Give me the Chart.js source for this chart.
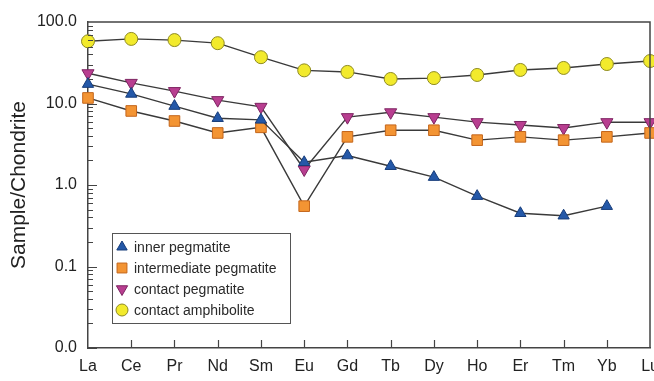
<!DOCTYPE html>
<html>
<head>
<meta charset="utf-8">
<script src="https://cdn.jsdelivr.net/npm/chart.js@4.4.1/dist/chart.umd.min.js"></script>
<style>
  html, body { margin: 0; padding: 0; background: #fff; overflow: hidden; }
  #clip { width: 654px; height: 381px; overflow: hidden; }
  #wrap { width: 660px; height: 381px; }
</style>
</head>
<body>
<div id="clip"><div id="wrap"><canvas id="ree"></canvas></div></div>
<script>
const elements = ['La', 'Ce', 'Pr', 'Nd', 'Sm', 'Eu', 'Gd', 'Tb', 'Dy', 'Ho', 'Er', 'Tm', 'Yb', 'Lu']
const yTicks = [0.01, 0.1, 1, 10, 100]

const innerPeg = [17.3, 13.1, 9.3, 6.6, 6.3, 1.9, 2.3, 1.7, 1.25, 0.73, 0.45, 0.42, 0.55, null]
const intermediatePeg = [11.7, 8.1, 6.1, 4.35, 5.1, 0.55, 3.9, 4.7, 4.7, 3.55, 3.9, 3.55, 3.9, 4.35]
const contactPeg = [23.5, 17.9, 14.2, 11.0, 9.1, 1.55, 6.8, 7.8, 6.8, 5.9, 5.45, 5.0, 5.9, 5.9]
const amphibolite = [58, 62, 60, 55, 37, 25.5, 24.4, 20, 20.5, 22.4, 25.8, 27.3, 30.5, 33.2]

const AXIS = '#444'
const LINE = '#3a3a3a'

const makeSet = (label, data, style, fill, border, radius, rotation) => ({
    label: label,
    data: data,
    borderColor: LINE,
    borderWidth: 1.4,
    tension: 0,
    pointStyle: style,
    pointRotation: rotation || 0,
    pointRadius: radius,
    pointBackgroundColor: fill,
    pointBorderColor: border,
    pointBorderWidth: 1,
})

// inward ticks, frame and legend box
const framePlugin = {
    id: 'frame',
    afterDraw(chart) {
        const ctx = chart.ctx
        const a = chart.chartArea
        const ys = chart.scales.y
        const xs = chart.scales.x
        ctx.save()
        ctx.strokeStyle = AXIS
        ctx.lineWidth = 1.2
        ctx.beginPath()
        for (let e = -2; e < 2; e++) {
            for (let m = 1; m <= 9; m++) {
                const py = Math.round(ys.getPixelForValue(m * Math.pow(10, e))) + 0.5
                const len = m === 1 ? 9 : 5
                ctx.moveTo(a.left, py)
                ctx.lineTo(a.left + len, py)
            }
        }
        for (let i = 1; i < elements.length - 1; i++) {
            const px = Math.round(xs.getPixelForValue(i)) + 0.5
            ctx.moveTo(px, a.bottom)
            ctx.lineTo(px, a.bottom - 8)
        }
        ctx.stroke()
        ctx.lineWidth = 1.5
        ctx.beginPath()
        ctx.moveTo(a.left, a.top)
        ctx.lineTo(Math.round(a.right), a.top)
        ctx.lineTo(Math.round(a.right), a.bottom)
        ctx.stroke()

        // legend
        const lx = a.left + 24, ly = a.top + 211
        ctx.fillStyle = '#fff'
        ctx.fillRect(lx, ly, 178, 90)
        ctx.lineWidth = 1
        ctx.strokeStyle = '#555'
        ctx.strokeRect(lx + 0.5, ly + 0.5, 178, 90)
        ctx.font = '14px "Liberation Sans", Arial, sans-serif'
        ctx.textBaseline = 'middle'
        chart.data.datasets.forEach((ds, i) => {
            const cy = ly + 14 + i * 21
            ctx.fillStyle = ds.pointBackgroundColor
            ctx.strokeStyle = ds.pointBorderColor
            ctx.lineWidth = 1
            Chart.helpers.drawPoint(ctx, {
                pointStyle: ds.pointStyle,
                radius: ds.pointRadius - 0.5,
                rotation: ds.pointRotation,
                borderWidth: 1,
            }, lx + 10, cy)
            ctx.fillStyle = '#2a2a2a'
            ctx.fillText(ds.label, lx + 22, cy + 1)
        })
        ctx.restore()
    },
}

new Chart(document.getElementById('ree'), {
    type: 'line',
    data: {
        labels: elements,
        datasets: [
            makeSet('inner pegmatite', innerPeg, 'triangle', '#2458a8', '#163c7a', 6.5),
            makeSet('intermediate pegmatite', intermediatePeg, 'rect', '#f39433', '#c4661c', 7.5),
            makeSet('contact pegmatite', contactPeg, 'triangle', '#b83e90', '#7e2462', 7, 180),
            makeSet('contact amphibolite', amphibolite, 'circle', '#f2ea2c', '#8e8a22', 6.5),
        ],
    },
    options: {
        responsive: true,
        maintainAspectRatio: false,
        animation: false,
        layout: { padding: { top: 22, right: 0, left: 0, bottom: 0 } },
        plugins: {
            legend: { display: false },
            tooltip: { enabled: false },
        },
        scales: {
            x: {
                type: 'category',
                offset: false,
                grid: { display: false },
                border: { display: true, color: AXIS, width: 1.5 },
                ticks: {
                    color: '#222',
                    font: { family: '"Liberation Sans", Arial, sans-serif', size: 16 },
                    padding: 1,
                    maxRotation: 0,
                    autoSkip: false,
                },
                afterFit(scale) {
                    scale.height = 33
                },
            },
            y: {
                type: 'logarithmic',
                min: 0.01,
                max: 100,
                grid: { display: false },
                border: { display: true, color: AXIS, width: 1.5 },
                afterBuildTicks(scale) {
                    scale.ticks = yTicks.map(v => ({ value: v, major: true }))
                },
                ticks: {
                    color: '#222',
                    font: { family: '"Liberation Sans", Arial, sans-serif', size: 16 },
                    padding: 3,
                    callback: (v) => Number(v).toFixed(1),
                },
                title: {
                    display: true,
                    text: 'Sample/Chondrite',
                    color: '#222',
                    font: { family: '"Liberation Sans", Arial, sans-serif', size: 21 },
                    padding: { top: 7, bottom: 0 },
                },
                afterFit(scale) {
                    scale.width = 88
                },
            },
        },
    },
    plugins: [framePlugin],
})
</script>
</body>
</html>
